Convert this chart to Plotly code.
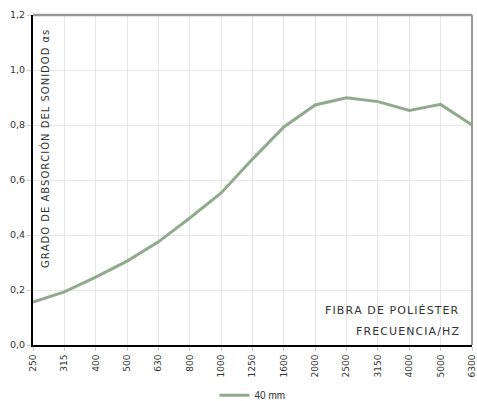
import plotly.graph_objects as go

freqs = ["250", "315", "400", "500", "630", "800", "1000", "1250", "1600",
         "2000", "2500", "3150", "4000", "5000", "6300"]
alpha_40mm = [0.156, 0.193, 0.247, 0.305, 0.375, 0.462, 0.553, 0.676, 0.793,
              0.873, 0.899, 0.885, 0.853, 0.875, 0.800]
y_ticks = [0.0, 0.2, 0.4, 0.6, 0.8, 1.0, 1.2]
y_ticktext = ["0,0", "0,2", "0,4", "0,6", "0,8", "1,0", "1,2"]

y_title = "GRADO DE ABSORCIÓN DEL SONIDOD αs"
note_material = "FIBRA DE POLIÉSTER"
note_axis = "FRECUENCIA/HZ"


def spaced(s):
    return "\u200a".join(s)


idx = list(range(len(freqs)))

fig = go.Figure()
fig.add_trace(go.Scatter(
    x=idx, y=alpha_40mm, mode="lines", name="40 mm",
    line=dict(color="#8faa8c", width=3),
))

fig.update_layout(
    width=477, height=401,
    margin=dict(l=33, r=5, t=15, b=56, autoexpand=False),
    paper_bgcolor="white", plot_bgcolor="white",
    font=dict(family="DejaVu Sans", size=9, color="#333333"),
    showlegend=True,
    legend=dict(orientation="h", x=0.5, xanchor="center", y=-0.152, yanchor="middle",
                font=dict(family="Liberation Sans", size=10, color="#333333"),
                itemwidth=30),
    xaxis=dict(range=[0, 14], tickmode="array", tickvals=idx, ticktext=freqs,
               tickangle=-90, showgrid=True, gridcolor="#e6e6e6", gridwidth=1,
               showline=True, linecolor="black", linewidth=2, automargin=False,
               ticks="outside", ticklen=4, tickcolor="#cccccc",
               tickfont=dict(size=9, color="#333333"), zeroline=False),
    yaxis=dict(range=[0, 1.2], tickmode="array", tickvals=y_ticks, ticktext=y_ticktext,
               showgrid=True, gridcolor="#e6e6e6", gridwidth=1,
               showline=True, linecolor="black", linewidth=2, automargin=False,
               ticks="outside", ticklen=4, tickcolor="#cccccc",
               tickfont=dict(size=9.5, color="#333333"), zeroline=False),
    shapes=[
        dict(type="line", xref="paper", yref="paper", x0=0, x1=1, y0=1, y1=1,
             line=dict(color="#999999", width=2.5)),
        dict(type="line", xref="paper", yref="paper", x0=1, x1=1, y0=0, y1=1,
             line=dict(color="#999999", width=2)),
    ],
    annotations=[
        dict(text=spaced(y_title), textangle=-90,
             xref="paper", yref="paper", x=0.027, y=0.96, xanchor="center", yanchor="top",
             showarrow=False, font=dict(family="DejaVu Sans", size=10, color="#333333")),
        dict(text=spaced(note_material), xref="paper", yref="paper", x=0.975, y=0.105,
             xanchor="right", yanchor="middle", showarrow=False,
             font=dict(family="DejaVu Sans", size=11, color="#333333")),
        dict(text=spaced(note_axis), xref="paper", yref="paper", x=0.975, y=0.04,
             xanchor="right", yanchor="middle", showarrow=False,
             font=dict(family="DejaVu Sans", size=11, color="#333333")),
    ],
)

fig.write_html(
    "out.html",
    config={"displayModeBar": False},
    post_script="document.body.style.margin='0';document.body.style.overflow='hidden';",
)
